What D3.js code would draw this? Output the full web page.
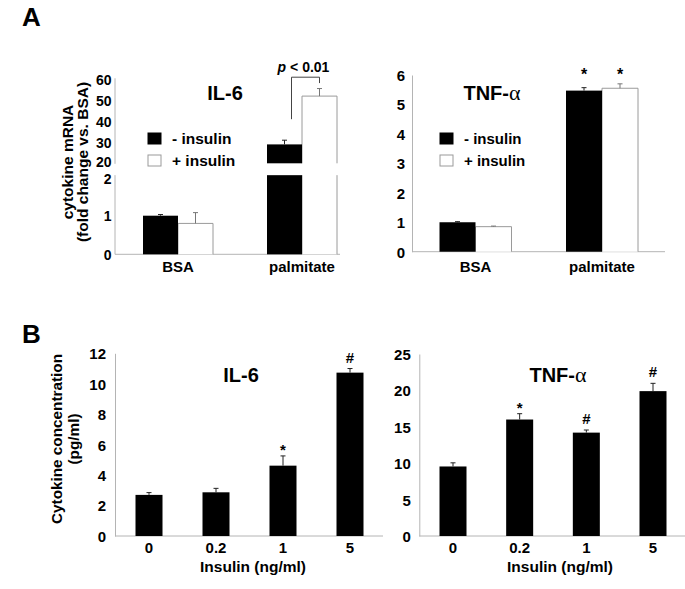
<!DOCTYPE html>
<html><head><meta charset="utf-8">
<script src="https://cdn.jsdelivr.net/npm/d3@7/dist/d3.min.js"></script>
<style>
body{margin:0;background:#fff}
svg text{font-family:"Liberation Sans",Arial,sans-serif;font-weight:bold;fill:#000}
</style>
</head><body>
<svg id="c" width="685" height="589"></svg>
<script>
// ---------------- DATA ----------------
const mrnaCategories = ["BSA", "palmitate"];
const mrnaSeries = ["- insulin", "+ insulin"];
// Panel A, IL-6 mRNA (fold change vs BSA)
const il6mRNA_noIns = [1.0, 29];
const il6mRNA_noInsErr = [0.03, 2.0];
const il6mRNA_ins = [0.8, 52];
const il6mRNA_insErr = [0.28, 3.6];
const il6LowTicks = [0, 1, 2];
const il6HighTicks = [20, 30, 40, 50, 60];
const il6Break = [2.05, 20];
const il6Bracket = ["p < 0.01"];
const il6BracketLevels = [41, 61, 58.2]; // left foot, top, right foot
// Panel A, TNF-α mRNA
const tnfmRNA_noIns = [1.0, 5.47];
const tnfmRNA_noInsErr = [0.02, 0.1];
const tnfmRNA_ins = [0.85, 5.55];
const tnfmRNA_insErr = [0.02, 0.15];
const tnfmRNATicks = [0, 1, 2, 3, 4, 5, 6];
const tnfmRNAMarks = [["", ""], ["*", "*"]];
// Panel B, secreted cytokines
const insulinDoses = ["0", "0.2", "1", "5"];
const il6Conc = [2.7, 2.87, 4.62, 10.73];
const il6ConcErr = [0.15, 0.26, 0.64, 0.27];
const il6ConcMarks = ["", "", "*", "#"];
const il6ConcTicks = [0, 2, 4, 6, 8, 10, 12];
const tnfConc = [9.55, 16.0, 14.2, 19.9];
const tnfConcErr = [0.5, 0.8, 0.36, 1.07];
const tnfConcMarks = ["", "*", "#", "#"];
const tnfConcTicks = [0, 5, 10, 15, 20, 25];

// ---------------- DRAW ----------------
const svg = d3.select("#c");
const AXIS = "#b4b4b4", OUT = "#9a9a9a";

function yAxis(g, scale, ticks, x, pad, fs) {
  const a = d3.axisLeft(scale).tickValues(ticks).tickFormat(d3.format("d")).tickSize(0).tickSizeOuter(0).tickPadding(pad);
  const gg = g.append("g").attr("transform", `translate(${x},0)`).call(a);
  gg.attr("font-family", null).attr("font-size", null);
  gg.select(".domain").attr("stroke", AXIS).attr("stroke-width", 1);
  gg.selectAll("text").style("font-size", fs + "px").attr("dy", "0.36em");
  return gg;
}
function errBar(g, x, y0, y1, col) {
  g.append("line").attr("x1", x).attr("x2", x).attr("y1", y0).attr("y2", y1).attr("stroke", col).attr("stroke-width", 1);
  g.append("line").attr("x1", x - 2.5).attr("x2", x + 2.5).attr("y1", y1).attr("y2", y1).attr("stroke", col).attr("stroke-width", 1);
}
function whiteBar(g, x0, w, yTop, yBot, top) {
  let p = `M${x0},${yBot}V${yTop}` + (top ? `H${x0 + w}` : `M${x0 + w},${yTop}`) + `V${yBot}`;
  g.append("rect").attr("x", x0).attr("y", yTop).attr("width", w).attr("height", yBot - yTop).attr("fill", "#fff");
  g.append("path").attr("d", p).attr("fill", "none").attr("stroke", OUT).attr("stroke-width", 1);
}
function legend(g, x, y, fs) {
  mrnaSeries.forEach((s, i) => {
    const yy = y + i * 22;
    g.append("rect").attr("x", x).attr("y", yy).attr("width", 13).attr("height", 11)
      .attr("fill", i === 0 ? "#000" : "#fff").attr("stroke", i === 0 ? "#000" : OUT).attr("stroke-width", 1);
    g.append("text").attr("x", x + 24).attr("y", yy + 11).style("font-size", fs + "px").text(s);
  });
}
function tnfTitle(g, x, y) {
  const t = g.append("text").attr("x", x).attr("y", y).attr("text-anchor", "middle").style("font-size", "20px");
  t.append("tspan").text("TNF-");
  t.append("tspan").style("font-family", "'Liberation Serif',serif").style("font-weight", "normal").style("font-size", "22px").text("α");
}

// Panel letters
svg.append("text").attr("x", 22).attr("y", 26).style("font-size", "26px").text("A");
svg.append("text").attr("x", 22).attr("y", 343).style("font-size", "26px").text("B");

// ---- A left: IL-6 mRNA with broken axis ----
{
  const g = svg.append("g");
  const yLow = d3.scaleLinear().domain([0, 2]).range([254.3, 177.1]);
  const yHigh = d3.scaleLinear().domain([20, 60]).range([163.3, 79.3]);
  const x = d3.scalePoint().domain(mrnaCategories).range([178, 302]);
  const bw = 35;
  const axX = 115;
  // axes
  const aLow = yAxis(g, yLow, il6LowTicks, axX, 3.5, 14);
  aLow.select(".domain").attr("d", `M0,${yLow(il6Break[0])}V${yLow(0)}`);
  aLow.selectAll(".tick text").filter(d => d === 2).attr("dy", "0.48em");
  const aHigh = yAxis(g, yHigh, il6HighTicks, axX, 3.5, 14);
  aHigh.select(".domain").attr("d", `M0,${yHigh(60) - 1}V${yHigh(il6Break[1]) + 0.5}`);
  aHigh.selectAll(".tick text").filter(d => d === 20).attr("dy", "0.24em");
  g.append("line").attr("x1", axX).attr("x2", 340).attr("y1", yLow(0)).attr("y2", yLow(0)).attr("stroke", AXIS);

  const series = [
    {v: il6mRNA_noIns, e: il6mRNA_noInsErr, off: -bw, black: true},
    {v: il6mRNA_ins, e: il6mRNA_insErr, off: 0, black: false}
  ];
  // white first, then black
  [series[1], series[0]].forEach(s => {
    mrnaCategories.forEach((c, i) => {
      const v = s.v[i], e = s.e[i];
      const x0 = x(c) + s.off;
      const broken = v > il6Break[1];
      const lowTopV = broken ? il6Break[0] : v;
      if (s.black) {
        g.append("rect").attr("x", x0).attr("y", yLow(lowTopV)).attr("width", bw).attr("height", yLow(0) - yLow(lowTopV)).attr("fill", "#000");
        if (broken) g.append("rect").attr("x", x0).attr("y", yHigh(v)).attr("width", bw).attr("height", yHigh(il6Break[1]) - yHigh(v)).attr("fill", "#000");
      } else {
        whiteBar(g, x0, bw, yLow(lowTopV), yLow(0), !broken);
        if (broken) whiteBar(g, x0, bw, yHigh(v), yHigh(il6Break[1]), true);
      }
      const ys = broken ? yHigh : yLow;
      errBar(g, x0 + bw / 2, ys(v), ys(v + e), s.black ? "#222" : "#777");
    });
  });
  // significance bracket
  const c = mrnaCategories[1];
  const xl = x(c) - bw / 2 + 7, xr = x(c) + bw / 2;
  g.append("path").attr("d", `M${xl},${yHigh(il6BracketLevels[0])}V${yHigh(il6BracketLevels[1])}H${xr}V${yHigh(il6BracketLevels[2])}`)
    .attr("fill", "none").attr("stroke", "#444").attr("stroke-width", 1);
  const pt = g.append("text").attr("x", (xl + xr) / 2 - 2).attr("y", 72).attr("text-anchor", "middle").style("font-size", "14px");
  pt.append("tspan").style("font-style", "italic").text("p");
  pt.append("tspan").text(il6Bracket[0].slice(1));
  // labels
  mrnaCategories.forEach(cat => g.append("text").attr("x", x(cat)).attr("y", 272).attr("text-anchor", "middle").style("font-size", "15px").text(cat));
  g.append("text").attr("x", 225).attr("y", 100).attr("text-anchor", "middle").style("font-size", "20px").text("IL-6");
  legend(g, 148, 133, 15.5);
  const yt = g.append("text").attr("transform", "translate(73,162) rotate(-90)").attr("text-anchor", "middle").style("font-size", "15.5px");
  yt.append("tspan").attr("x", 0).attr("dy", 0).text("cytokine mRNA");
  yt.append("tspan").attr("x", 0).attr("dy", 14.5).text("(fold change vs. BSA)");
}

// ---- A right: TNF-α mRNA ----
{
  const g = svg.append("g");
  const y = d3.scaleLinear().domain([0, 6]).range([251.7, 75]);
  const x = d3.scalePoint().domain(mrnaCategories).range([475.5, 602]);
  const bw = 36, axX = 412;
  yAxis(g, y, tnfmRNATicks, axX, 7, 15);
  g.append("line").attr("x1", axX).attr("x2", 665).attr("y1", y(0)).attr("y2", y(0)).attr("stroke", AXIS);
  const series = [
    {v: tnfmRNA_noIns, e: tnfmRNA_noInsErr, off: -bw, black: true},
    {v: tnfmRNA_ins, e: tnfmRNA_insErr, off: 0, black: false}
  ];
  [series[1], series[0]].forEach((s) => {
    const si = s.black ? 0 : 1;
    mrnaCategories.forEach((c, i) => {
      const v = s.v[i], e = s.e[i], x0 = x(c) + s.off;
      if (s.black) g.append("rect").attr("x", x0).attr("y", y(v)).attr("width", bw).attr("height", y(0) - y(v)).attr("fill", "#000");
      else whiteBar(g, x0, bw, y(v), y(0), true);
      errBar(g, x0 + bw / 2, y(v), y(v + e), s.black ? "#222" : "#777");
      const m = tnfmRNAMarks[i][si];
      if (m) g.append("text").attr("x", x0 + bw / 2).attr("y", y(d3.max([tnfmRNA_noIns[i] + tnfmRNA_noInsErr[i], tnfmRNA_ins[i] + tnfmRNA_insErr[i]])) - 4).attr("text-anchor", "middle").style("font-size", "16px").text(m);
    });
  });
  mrnaCategories.forEach(cat => g.append("text").attr("x", x(cat)).attr("y", 272).attr("text-anchor", "middle").style("font-size", "15px").text(cat));
  tnfTitle(g, 492, 100);
  legend(g, 440, 133, 15);
}

// ---- B panels ----
function panelB(opts) {
  const g = svg.append("g");
  const y = d3.scaleLinear().domain([0, opts.ticks[opts.ticks.length - 1]]).range([536, opts.yTop]);
  const x = d3.scalePoint().domain(insulinDoses).range(opts.xr);
  const bw = 27;
  yAxis(g, y, opts.ticks, opts.axX, opts.pad, 15);
  g.append("line").attr("x1", opts.axX).attr("x2", opts.axEnd).attr("y1", y(0)).attr("y2", y(0)).attr("stroke", AXIS);
  insulinDoses.forEach((d, i) => {
    const v = opts.vals[i], e = opts.errs[i], xc = x(d);
    g.append("rect").attr("x", xc - bw / 2).attr("y", y(v)).attr("width", bw).attr("height", y(0) - y(v)).attr("fill", "#000");
    errBar(g, xc, y(v), y(v + e), "#222");
    if (opts.marks[i]) g.append("text").attr("x", xc).attr("y", y(v + e) - (opts.marks[i] === "#" ? 6 : 1)).attr("text-anchor", "middle").style("font-size", "15px").text(opts.marks[i]);
    g.append("text").attr("x", xc).attr("y", 553).attr("text-anchor", "middle").style("font-size", "15px").text(d);
  });
  g.append("text").attr("x", opts.xlabX).attr("y", 572).attr("text-anchor", "middle").style("font-size", "15.5px").text("Insulin (ng/ml)");
  return g;
}
const gB1 = panelB({ticks: il6ConcTicks, yTop: 353.3, xr: [149, 350], axX: 115, axEnd: 383, pad: 9, vals: il6Conc, errs: il6ConcErr, marks: il6ConcMarks, xlabX: 253});
gB1.append("text").attr("x", 241).attr("y", 382).attr("text-anchor", "middle").style("font-size", "20px").text("IL-6");
{
  const yt = gB1.append("text").attr("transform", "translate(62,439) rotate(-90)").attr("text-anchor", "middle").style("font-size", "15.3px");
  yt.append("tspan").attr("x", 0).attr("dy", 0).text("Cytokine concentration");
  yt.append("tspan").attr("x", 0).attr("dy", 17).text("(pg/ml)");
}
const gB2 = panelB({ticks: tnfConcTicks, yTop: 354, xr: [453, 653], axX: 419.3, axEnd: 685, pad: 8.5, vals: tnfConc, errs: tnfConcErr, marks: tnfConcMarks, xlabX: 560});
tnfTitle(gB2, 558, 382);
</script>
</body></html>
